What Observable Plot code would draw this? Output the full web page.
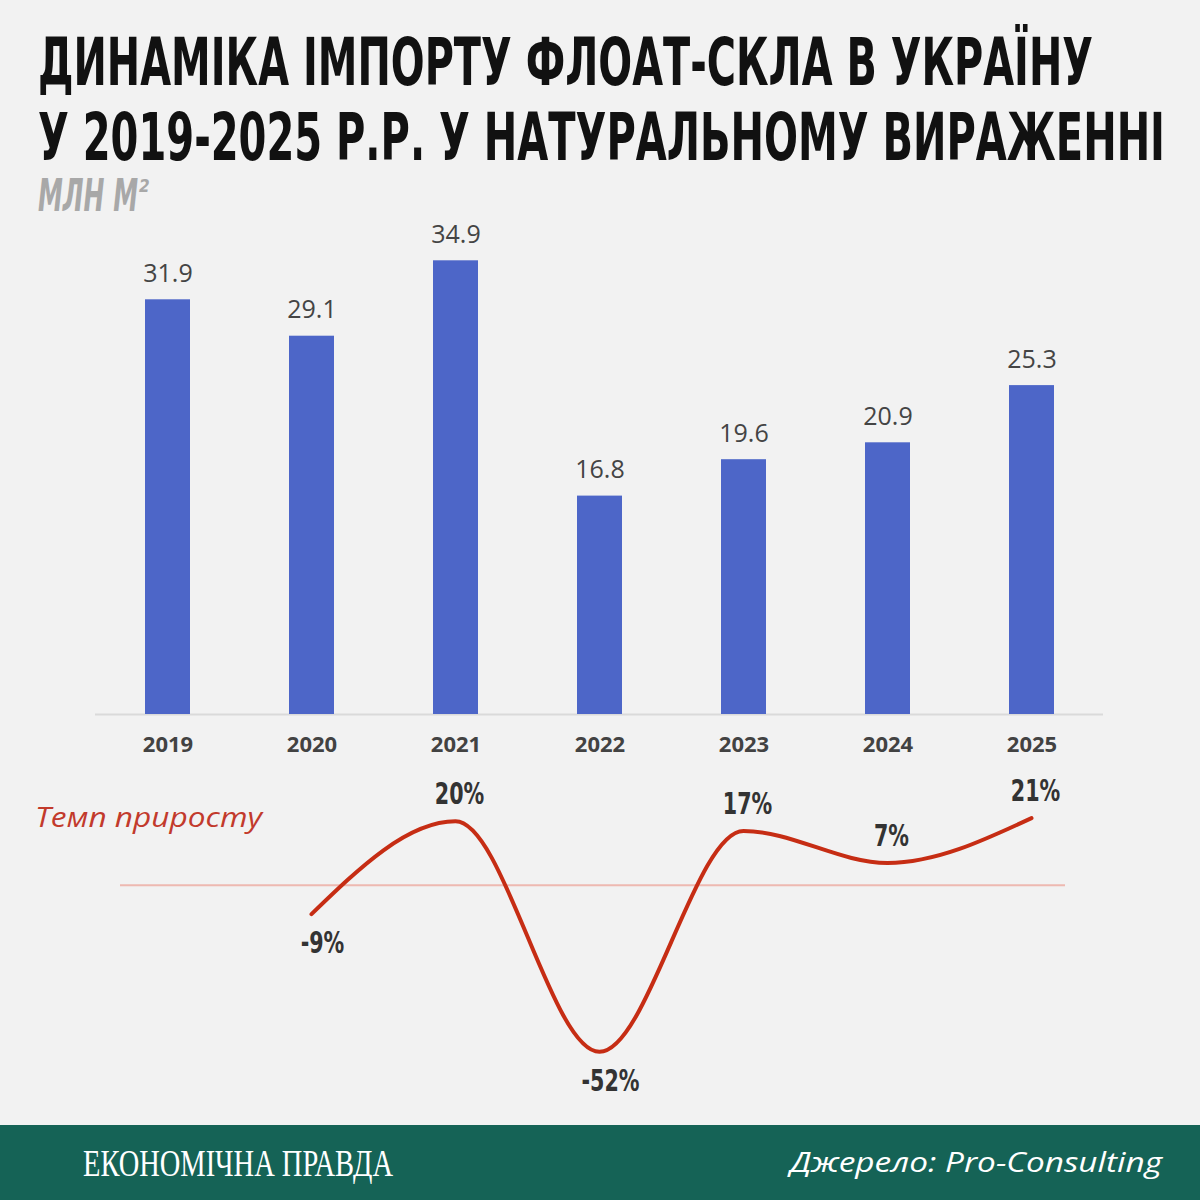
<!DOCTYPE html>
<html>
<head>
<meta charset="utf-8">
<script src="https://cdn.jsdelivr.net/npm/d3@7"></script>
<script src="https://cdn.jsdelivr.net/npm/@observablehq/plot@0.6"></script>
<style>
  html, body { margin: 0; padding: 0; background: #f2f2f2; }
  #page { position: relative; width: 1200px; height: 1200px; background: #f2f2f2; overflow: hidden; }
  #page svg { display: block; }
  #linewrap { position: relative; }
  #growthLabel { position: absolute; left: 0; top: 0; pointer-events: none; }
</style>
</head>
<body>
<div id="page">
  <svg id="header" width="1200" height="220">
    <text x="38" y="85" font-family="'DejaVu Sans Condensed','DejaVu Sans',sans-serif" font-stretch="condensed" font-weight="bold" font-size="66" fill="#111" textLength="1055" lengthAdjust="spacingAndGlyphs">ДИНАМІКА ІМПОРТУ ФЛОАТ-СКЛА В УКРАЇНУ</text>
    <text x="38" y="160" font-family="'DejaVu Sans Condensed','DejaVu Sans',sans-serif" font-stretch="condensed" font-weight="bold" font-size="66" fill="#111" textLength="1127" lengthAdjust="spacingAndGlyphs">У 2019-2025 Р.Р. У НАТУРАЛЬНОМУ ВИРАЖЕННІ</text>
    <text x="38" y="211" font-family="'DejaVu Sans Condensed','DejaVu Sans',sans-serif" font-stretch="condensed" font-weight="bold" font-style="italic" font-size="44" fill="#a8a8a8" textLength="100" lengthAdjust="spacingAndGlyphs">МЛН М</text>
    <text x="139" y="192" font-family="'DejaVu Sans Condensed','DejaVu Sans',sans-serif" font-weight="bold" font-style="italic" font-size="17" fill="#a8a8a8">2</text>
  </svg>
  <div id="bars"></div>
  <div id="linewrap">
    <div id="line"></div>
    <svg id="growthLabel" width="400" height="100">
      <text x="35" y="67" font-family="'Open Sans',sans-serif" font-style="italic" font-size="28" fill="#c23a2c" textLength="227" lengthAdjust="spacingAndGlyphs">Темп приросту</text>
    </svg>
  </div>
  <svg id="footer" width="1200" height="75">
    <rect x="0" y="0" width="1200" height="75" fill="#156356"></rect>
    <text x="83" y="51" font-family="'Liberation Serif','DejaVu Serif',serif" font-size="38" fill="#ffffff" textLength="310" lengthAdjust="spacingAndGlyphs">ЕКОНОМІЧНА ПРАВДА</text>
    <text x="1162" y="47" text-anchor="end" font-family="'Open Sans',sans-serif" font-style="italic" font-size="28" fill="#ffffff" textLength="372" lengthAdjust="spacingAndGlyphs">Джерело: Pro-Consulting</text>
  </svg>
</div>
<script>
// ---- data ----
const years = ["2019", "2020", "2021", "2022", "2023", "2024", "2025"];
const importVolume = [31.9, 29.1, 34.9, 16.8, 19.6, 20.9, 25.3]; // млн м²
const growthYears = ["2020", "2021", "2022", "2023", "2024", "2025"];
const growthRate = [-9, 20, -52, 17, 7, 21]; // %

const barData = years.map((y, i) => ({year: y, value: importVolume[i]}));
const growthData = growthYears.map((y, i) => ({year: y, value: growthRate[i]}));

const condensed = "'DejaVu Sans Condensed','DejaVu Sans',sans-serif";
const xScale = {domain: years, paddingInner: 0.69, paddingOuter: 0.345};

const bars = Plot.plot({
  width: 1200,
  height: 540,
  marginLeft: 95,
  marginRight: 97,
  marginTop: 0,
  marginBottom: 46,
  style: {background: "transparent", fontFamily: "'Open Sans',sans-serif", fontSize: "22px", fontWeight: "bold", color: "#424242", overflow: "visible"},
  x: {...xScale, label: null, tickSize: 0, tickPadding: 22},
  y: {domain: [0, 38], axis: null},
  marks: [
    Plot.ruleY([0], {stroke: "#dadada", strokeWidth: 2}),
    Plot.barY(barData, {x: "year", y: "value", fill: "#4d66c8"}),
    Plot.text(barData, {x: "year", y: "value", text: d => d.value.toFixed(1), dy: -26, fontSize: 25, fontWeight: "normal", fill: "#444"})
  ]
});
document.getElementById("bars").appendChild(bars);

const line = Plot.plot({
  width: 1200,
  height: 365,
  marginLeft: 95,
  marginRight: 97,
  marginTop: 0,
  marginBottom: 0,
  style: {background: "transparent", overflow: "visible"},
  x: {...xScale, axis: null},
  y: {domain: [-75, 39], axis: null},
  marks: [
    Plot.ruleY([0], {stroke: "#eeb9b1", strokeWidth: 2, insetLeft: 25, insetRight: 38}),
    Plot.line(growthData, {x: "year", y: "value", curve: "monotone-x", stroke: "#c62d14", strokeWidth: 4, strokeLinecap: "round"}),
    Plot.text(growthData.filter(d => d.value >= 0), {x: "year", y: "value", text: d => d.value + "%", dy: -27, dx: 4, fontSize: 31, fontWeight: "bold", fontFamily: condensed, fill: "#333", className: "pct"}),
    Plot.text(growthData.filter(d => d.value < 0), {x: "year", y: "value", text: d => d.value + "%", dy: 29, dx: 11, fontSize: 31, fontWeight: "bold", fontFamily: condensed, fill: "#333", className: "pct"})
  ]
});
document.getElementById("line").appendChild(line);

// narrow the percentage labels (condensed display look)
line.querySelectorAll(".pct text").forEach(t => {
  const w = t.getComputedTextLength();
  t.setAttribute("textLength", (w * 0.74).toFixed(1));
  t.setAttribute("lengthAdjust", "spacingAndGlyphs");
});
</script>
</body>
</html>
